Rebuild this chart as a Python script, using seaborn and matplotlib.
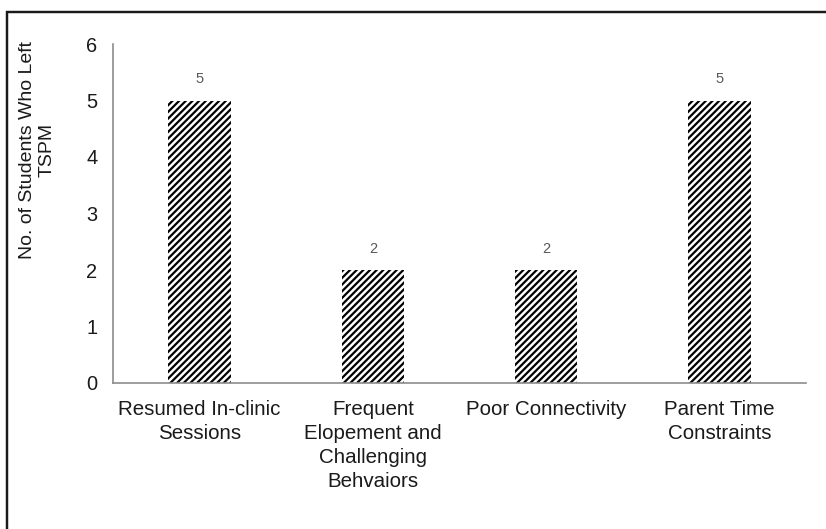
import matplotlib
matplotlib.use("Agg")
import matplotlib.pyplot as plt
from matplotlib.patches import Rectangle
import seaborn as sns
import pandas as pd

# Reasons students left the TSPM program
categories = [
    "Resumed In-clinic\nSessions",
    "Frequent\nElopement and\nChallenging\nBehvaiors",
    "Poor Connectivity",
    "Parent Time\nConstraints",
]
students_left = [5, 2, 2, 5]
y_ticks = [0, 1, 2, 3, 4, 5, 6]
y_label = "No. of Students Who Left\nTSPM"

sns.set_style("white")
plt.rcParams["font.family"] = ["Liberation Sans", "DejaVu Sans"]
plt.rcParams["hatch.linewidth"] = 2.0

DPI = 80
W, H = 826, 529
fig = plt.figure(figsize=(W / DPI, H / DPI), dpi=DPI)
ax = fig.add_axes([113 / W, 1 - 383 / H, (806 - 113) / W, (383 - 44) / H])

df = pd.DataFrame({"reason": categories, "count": students_left})
sns.barplot(
    data=df, x="reason", y="count", ax=ax,
    color="white", width=0.36, edgecolor="black", linewidth=0,
    hatch="////", saturation=1,
)

for container in ax.containers:
    ax.bar_label(container, labels=[str(v) for v in students_left],
                 padding=13, fontsize=13, color="#595959")

ax.set_ylim(0, 6)
ax.set_xlim(-0.5, len(categories) - 0.5)
ax.set_yticks(y_ticks)
ax.set_xlabel("")
ax.set_ylabel("")
ax.tick_params(axis="both", length=0, colors="#1a1a1a")
ax.tick_params(axis="y", pad=14, labelsize=18)
ax.tick_params(axis="x", pad=15, labelsize=18.5)
for lbl in ax.get_xticklabels():
    lbl.set_multialignment("center")
    lbl.set_linespacing(1.35)

for side in ("top", "right"):
    ax.spines[side].set_visible(False)
for side in ("left", "bottom"):
    ax.spines[side].set_color("#8c8c8c")
    ax.spines[side].set_linewidth(1.5)

fig.text(37 / W, 1 - 150 / H, y_label, rotation=90, ha="center", va="center",
         multialignment="center", fontsize=17.5, color="#1a1a1a")

# Outer frame around the chart area
frame = Rectangle((7 / W, -0.1), 1.2, 1 - 12 / H + 0.1, transform=fig.transFigure,
                  fill=False, edgecolor="#1a1a1a", linewidth=2.2, clip_on=False)
fig.patches.append(frame)

fig.savefig("out.png", dpi=DPI, facecolor="white")
